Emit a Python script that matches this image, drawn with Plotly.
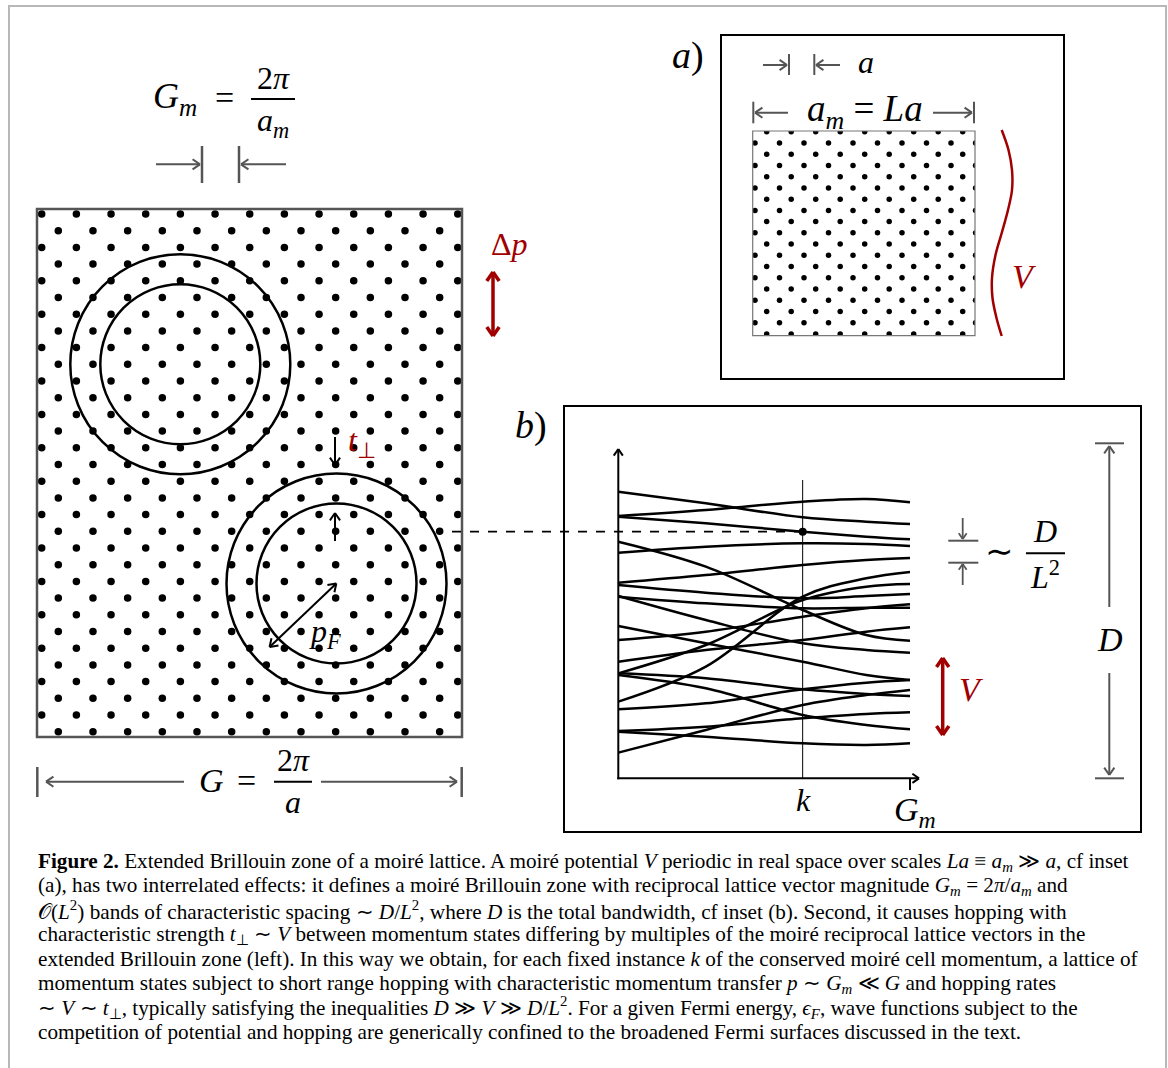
import plotly.graph_objects as go
import numpy as np

W, H = 1168, 1068

# ---------------- data ----------------
# band structure in inset (b): energies (arbitrary units) at momenta k (units of G_m)
band_k = [0.0, 0.30, 0.632, 0.85, 1.0]
band_energies = [
    [86.0, 82.5, 78.3, 77.0, 76.3],
    [78.7, 80.5, 83.0, 83.8, 82.8],
    [78.5, 76.5, 74.0, 72.5, 71.7],
    [71.0, 63.5, 50.5, 43.0, 41.3],
    [67.7, 69.5, 70.5, 70.3, 69.7],
    [58.7, 61.0, 64.0, 65.5, 66.1],
    [58.0, 55.7, 54.0, 54.7, 55.3],
    [54.7, 47.5, 40.5, 38.5, 37.7],
    [54.5, 52.5, 51.0, 51.2, 51.2],
    [45.7, 40.5, 35.0, 31.0, 29.5],
    [41.5, 44.0, 48.5, 51.0, 52.2],
    [35.0, 38.5, 41.5, 44.0, 45.3],
    [31.5, 40.0, 53.5, 57.5, 58.3],
    [31.0, 27.0, 19.0, 16.0, 14.7],
    [23.0, 33.5, 54.5, 60.0, 61.9],
    [20.7, 22.5, 26.7, 28.7, 29.5],
    [7.7, 14.5, 22.0, 25.0, 26.5],
    [14.2, 15.5, 18.0, 19.3, 19.8],
    [14.0, 12.5, 10.5, 10.0, 10.5],
    [31.5, 30.0, 26.7, 25.3, 24.7],
]
k_fixed = 0.632
E_fixed = 74.0

caption_lines = [
    "<b>Figure 2.</b> Extended Brillouin zone of a moiré lattice. A moiré potential <i>V</i> periodic in real space over scales <i>La</i> ≡ <i>a<sub>m</sub></i> ≫ <i>a</i>, cf inset",
    "(a), has two interrelated effects: it defines a moiré Brillouin zone with reciprocal lattice vector magnitude <i>G<sub>m</sub></i> = 2<i>π</i>/<i>a<sub>m</sub></i> and",
    "𝒪(<i>L</i><sup>2</sup>) bands of characteristic spacing ∼ <i>D</i>/<i>L</i><sup>2</sup>, where <i>D</i> is the total bandwidth, cf inset (b). Second, it causes hopping with",
    "characteristic strength <i>t</i><sub>⊥</sub> ∼ <i>V</i> between momentum states differing by multiples of the moiré reciprocal lattice vectors in the",
    "extended Brillouin zone (left). In this way we obtain, for each fixed instance <i>k</i> of the conserved moiré cell momentum, a lattice of",
    "momentum states subject to short range hopping with characteristic momentum transfer <i>p</i> ∼ <i>G<sub>m</sub></i> ≪ <i>G</i> and hopping rates",
    "∼ <i>V</i> ∼ <i>t</i><sub>⊥</sub>, typically satisfying the inequalities <i>D</i> ≫ <i>V</i> ≫ <i>D</i>/<i>L</i><sup>2</sup>. For a given Fermi energy, <i>ϵ<sub>F</sub></i>, wave functions subject to the",
    "competition of potential and hopping are generically confined to the broadened Fermi surfaces discussed in the text.",
]

# ---------------- style constants ----------------
RED = "#A00000"
GRAY = "#555555"
SERIF = "Liberation Serif"

fig = go.Figure()

def line(x0, y0, x1, y1, color="black", width=2, dash=None):
    fig.add_shape(type="line", xref="x", yref="y", x0=x0, y0=y0, x1=x1, y1=y1,
                  line=dict(color=color, width=width, dash=dash))

def _head(xh, yh, dx, dy, color, width, hl, ang):
    n = np.hypot(dx, dy)
    ux, uy = dx / n, dy / n
    for s in (1, -1):
        c, sn = np.cos(ang), s * np.sin(ang)
        bx = ux * c - uy * sn
        by = ux * sn + uy * c
        line(xh, yh, xh - hl * bx, yh - hl * by, color=color, width=width)

def arrow(xt, yt, xh, yh, color="black", width=2, both=False, hl=9, ang=0.6):
    line(xt, yt, xh, yh, color=color, width=width)
    _head(xh, yh, xh - xt, yh - yt, color, width, hl, ang)
    if both:
        _head(xt, yt, xt - xh, yt - yh, color, width, hl, ang)

def text(x, y, s, size=30, color="black", xanchor="center", family=SERIF):
    fig.add_annotation(x=x, y=y, xref="x", yref="y", text=s, showarrow=False,
                       font=dict(family=family, size=size, color=color),
                       xanchor=xanchor, yanchor="middle")

# outer frame
fig.add_shape(type="rect", xref="x", yref="y", x0=9, y0=6, x1=1166, y1=1080,
              line=dict(color="#b8b8b8", width=2))

# ---------------- lattices (clipped to their squares by own axes) ----------------
def lattice(x_even, x_odd, dx, n_even, n_odd, y0, dy, nrows):
    xs, ys = [], []
    for r in range(nrows):
        if r % 2 == 0:
            xs += [x_even + dx * j for j in range(n_even)]
            ys += [y0 + dy * r] * n_even
        else:
            xs += [x_odd + dx * j for j in range(n_odd)]
            ys += [y0 + dy * r] * n_odd
    return xs, ys

BIG = (37, 209, 462, 737)
SMALL = (752.7, 131, 975, 335.7)

def box_axes(name_x, name_y, box):
    x0, y0, x1, y1 = box
    return {
        name_x: dict(domain=[x0 / W, x1 / W], range=[x0, x1], visible=False, anchor=name_y.replace("axis", ""), fixedrange=True),
        name_y: dict(domain=[1 - y1 / H, 1 - y0 / H], range=[y1, y0], visible=False, anchor=name_x.replace("axis", ""), fixedrange=True),
    }

fig.update_layout(**box_axes("xaxis3", "yaxis3", BIG))
fig.update_layout(**box_axes("xaxis4", "yaxis4", SMALL))

bx, by = lattice(41.7, 58.3, 34.67, 13, 12, 214.0, 16.70, 32)
fig.add_trace(go.Scatter(x=bx, y=by, xaxis="x3", yaxis="y3", mode="markers",
                         marker=dict(size=7.5, color="black"), hoverinfo="skip", showlegend=False))
sx, sy = lattice(766.7, 755.0, 24.5, 9, 10, 131.7, 11.24, 19)
fig.add_trace(go.Scatter(x=sx, y=sy, xaxis="x4", yaxis="y4", mode="markers",
                         marker=dict(size=5.5, color="black"), hoverinfo="skip", showlegend=False))

# ---------------- left: extended Brillouin zone ----------------
fig.add_shape(type="rect", xref="x", yref="y", x0=BIG[0], y0=BIG[1], x1=BIG[2], y1=BIG[3],
              line=dict(color=GRAY, width=2.5))
for (cx, cy) in [(180.3, 364.2), (336.5, 583.5)]:
    for r in (110, 80):
        fig.add_shape(type="circle", xref="x", yref="y", x0=cx - r, y0=cy - r, x1=cx + r, y1=cy + r,
                      line=dict(color="black", width=2.5))

# G_m label
text(175, 98, "<i>G<sub>m</sub></i>", 36)
text(224, 97, "=", 34)
text(273, 78, "2<i>π</i>", 32)
line(251, 99, 295, 99, width=2)
text(273, 122, "<i>a<sub>m</sub></i>", 32)
arrow(156, 164.3, 200, 164.3, color=GRAY)
line(202, 146, 202, 183, color=GRAY, width=2.5)
line(239, 146, 239, 183, color=GRAY, width=2.5)
arrow(286, 164.3, 241, 164.3, color=GRAY)

# Delta p
text(509, 244, "Δ<i>p</i>", 32, RED)
arrow(493, 336, 493, 272, color=RED, width=3.5, both=True, hl=11)

# t_perp arrows
arrow(335, 437, 335, 465)
text(362, 442, "<i>t</i><sub>⊥</sub>", 32, RED)
arrow(335, 541, 335, 513)
arrow(269.6, 647.0, 336.3, 583.5, both=True)
text(325, 633, "<i>p<sub>F</sub></i>", 32)

# G label bottom
line(37.3, 767, 37.3, 797, color=GRAY, width=2.5)
arrow(184, 781.7, 46, 781.7, color=GRAY)
text(211, 780, "<i>G</i>", 34)
text(246, 780, "=", 34)
text(293, 760, "2<i>π</i>", 32)
line(274, 781.7, 312, 781.7, width=2)
text(293, 802, "<i>a</i>", 32)
arrow(321, 781.7, 457, 781.7, color=GRAY)
line(461.7, 767, 461.7, 797, color=GRAY, width=2.5)

# dashed connector
line(452, 531.7, 800, 531.7, width=1.8, dash="dash")

# ---------------- inset (a) ----------------
fig.add_shape(type="rect", xref="x", yref="y", x0=721, y0=35, x1=1064, y1=379,
              line=dict(color="black", width=2))
text(688, 55, "<i>a</i>)", 38)
fig.add_shape(type="rect", xref="x", yref="y", x0=SMALL[0], y0=SMALL[1], x1=SMALL[2], y1=SMALL[3],
              line=dict(color="#777777", width=1.2))
arrow(763, 65, 787, 65, color=GRAY)
line(789, 54, 789, 75, color=GRAY, width=2)
line(814.3, 54, 814.3, 75, color=GRAY, width=2)
arrow(840, 65, 816, 65, color=GRAY)
text(866, 62, "<i>a</i>", 32)
line(753.3, 101.7, 753.3, 123.3, color=GRAY, width=2)
arrow(788, 112.7, 755, 112.7, color=GRAY)
text(865, 111, "<i>a<sub>m</sub></i> = <i>La</i>", 37)
arrow(933, 112.7, 972, 112.7, color=GRAY)
line(974, 101.7, 974, 123.3, color=GRAY, width=2)
wave_y = [130, 150, 170, 190, 210, 232, 255, 278, 298, 318, 336]
wave_x = [1001.7, 1008.5, 1012.0, 1012.0, 1008.0, 1002.0, 995.5, 992.0, 992.5, 996.5, 1001.7]
fig.add_trace(go.Scatter(x=wave_x, y=wave_y, mode="lines", line=dict(color=RED, width=2.5, shape="spline"),
                         hoverinfo="skip", showlegend=False))
text(1024, 276, "<i>V</i>", 34, RED)

# ---------------- inset (b) ----------------
fig.add_shape(type="rect", xref="x", yref="y", x0=564, y0=406, x1=1141, y1=832,
              line=dict(color="black", width=2))
text(531, 425, "<i>b</i>)", 38)

X0, Y0, PXK, PXE = 618.33, 778.33, 291.67, 3.3333
fig.update_layout(
    xaxis2=dict(range=[-X0 / PXK, (W - X0) / PXK], overlaying="x", anchor="y2", visible=False, domain=[0, 1]),
    yaxis2=dict(range=[(Y0 - H) / PXE, Y0 / PXE], overlaying="y", anchor="x2", visible=False, domain=[0, 1]),
)
for e in band_energies:
    fig.add_trace(go.Scatter(x=band_k, y=e, xaxis="x2", yaxis="y2", mode="lines",
                             line=dict(color="black", width=2.5, shape="spline", smoothing=1.0),
                             hoverinfo="skip", showlegend=False))
fig.add_trace(go.Scatter(x=[k_fixed, k_fixed], y=[89.5, 0], xaxis="x2", yaxis="y2", mode="lines",
                         line=dict(color="black", width=1), hoverinfo="skip", showlegend=False))
fig.add_trace(go.Scatter(x=[k_fixed], y=[E_fixed], xaxis="x2", yaxis="y2", mode="markers",
                         marker=dict(size=8, color="black"), hoverinfo="skip", showlegend=False))

arrow(618.3, 779.3, 618.3, 449, width=2, hl=8)
arrow(617.3, 778.3, 919, 778.3, width=2, hl=8)
line(910, 778, 910, 790, width=2)
text(803, 800, "<i>k</i>", 32)
text(915, 812, "<i>G<sub>m</sub></i>", 34)

# spacing annotation
line(948.3, 540.7, 978.3, 540.7, color=GRAY, width=2)
line(948.3, 562.7, 978.3, 562.7, color=GRAY, width=2)
arrow(962.7, 518, 962.7, 539, color=GRAY, width=1.8, hl=7)
arrow(962.7, 585, 962.7, 564, color=GRAY, width=1.8, hl=7)
text(999, 551, "∼", 34)
text(1045, 531, "<i>D</i>", 32)
line(1026, 553.3, 1065, 553.3, width=2)
text(1045, 575, "<i>L</i><sup>2</sup>", 32)

# V arrow
arrow(942.7, 735, 942.7, 658, color=RED, width=3.5, both=True, hl=11)
text(971, 689, "<i>V</i>", 34, RED)

# D bandwidth
line(1095, 443.3, 1124, 443.3, color=GRAY, width=2)
line(1095, 778.3, 1124, 778.3, color=GRAY, width=2)
arrow(1109.3, 607, 1109.3, 446, color=GRAY, width=2)
arrow(1109.3, 673, 1109.3, 775, color=GRAY, width=2)
text(1110, 639, "<i>D</i>", 34)

# ---------------- caption ----------------
cap_y = [862, 886.3, 910.6, 934.9, 959.2, 983.5, 1007.8, 1032.1]
for yy, s in zip(cap_y, caption_lines):
    text(36, yy, s, 21.2, "black", xanchor="left")

fig.update_layout(
    width=W, height=H, margin=dict(l=0, r=0, t=0, b=0),
    paper_bgcolor="white", plot_bgcolor="white",
    xaxis=dict(range=[0, W], visible=False, domain=[0, 1], fixedrange=True),
    yaxis=dict(range=[H, 0], visible=False, domain=[0, 1], fixedrange=True),
    showlegend=False,
)
fig.write_html("out.html")
